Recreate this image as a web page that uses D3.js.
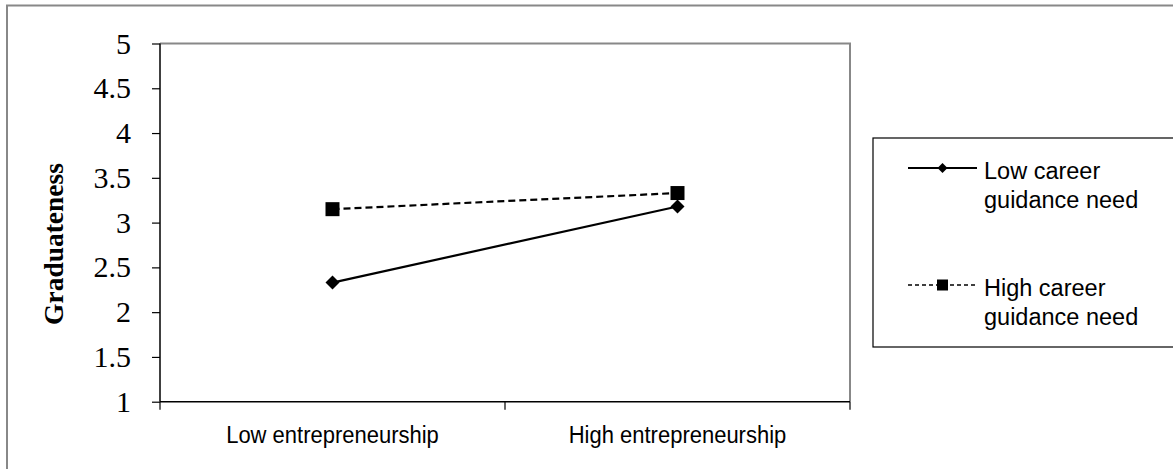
<!DOCTYPE html>
<html><head><meta charset="utf-8">
<script src="https://cdn.jsdelivr.net/npm/d3@7"></script>
<style>body{margin:0;background:#fff}svg{display:block}</style>
</head><body>
<svg id="c" width="1173" height="469"></svg>
<script>
const categories = ["Low entrepreneurship", "High entrepreneurship"];
const seriesNames = ["Low career guidance need", "High career guidance need"];
const lowGuidance = [2.33, 3.18];
const highGuidance = [3.15, 3.33];
const yTicks = [1, 1.5, 2, 2.5, 3, 3.5, 4, 4.5, 5];
const yTitle = "Graduateness";

const svg = d3.select("#c");
// outer frame
svg.append("rect").attr("x",7).attr("y",5.5).attr("width",1180).attr("height",480)
  .attr("fill","none").attr("stroke","#888").attr("stroke-width",2);

const L=160, R=850, T=43.5, B=401.7;
const x = d3.scaleBand().domain(categories).range([L,R]);
const y = d3.scaleLinear().domain([1,5]).range([B,T]);

// plot frame top/right gray
svg.append("path").attr("d",`M${L},${T}H${R}V${B}`).attr("fill","none").attr("stroke","#888").attr("stroke-width",2);

// y axis
const ya = svg.append("g").attr("transform",`translate(${L},0)`)
  .call(d3.axisLeft(y).tickValues(yTicks).tickFormat(d3.format("")).tickSize(8).tickPadding(21));
ya.select(".domain").attr("stroke","#000").attr("stroke-width",1.5).attr("d",`M0,${B}V${T}`);
ya.selectAll(".tick line").attr("stroke","#000").attr("stroke-width",1.2);
ya.selectAll("text").attr("font-family","Liberation Serif, Times New Roman, serif").attr("font-size",30).attr("fill","#000");

// x axis
const xa = svg.append("g").attr("transform",`translate(0,${B})`)
  .call(d3.axisBottom(x).tickSize(0).tickPadding(0));
xa.select(".domain").attr("stroke","#000").attr("stroke-width",1.5).attr("d",`M${L},0H${R}`);
xa.selectAll(".tick text").attr("font-family","Liberation Sans, Arial, sans-serif").attr("font-size",22)
  .attr("fill","#000").attr("dy",0).attr("y",0)
  .attr("transform","translate(0,41.5) scale(1,1.12)");
// boundary tick marks
const bounds = [L, ...categories.slice(1).map(c=>x(c)), R];
xa.selectAll(".btick").data(bounds).enter().append("line").attr("class","btick")
  .attr("x1",d=>d).attr("x2",d=>d).attr("y1",0).attr("y2",8).attr("stroke","#000").attr("stroke-width",1.2);

// y title
svg.append("text").attr("transform","translate(63,244) rotate(-90)").attr("text-anchor","middle")
  .attr("font-family","Liberation Serif, Times New Roman, serif").attr("font-weight","bold").attr("font-size",27.5)
  .text(yTitle);

const cx = c => x(c) + x.bandwidth()/2;
const line = d3.line().x((d,i)=>cx(categories[i])).y(d=>y(d));

// series
svg.append("path").datum(highGuidance).attr("d",line).attr("fill","none").attr("stroke","#000")
  .attr("stroke-width",2.2).attr("stroke-dasharray","7,4");
svg.append("path").datum(lowGuidance).attr("d",line).attr("fill","none").attr("stroke","#000").attr("stroke-width",2.2);

const diamond = (s)=>`M0,${-s}L${s},0L0,${s}L${-s},0Z`;
svg.selectAll(".sq").data(highGuidance).enter().append("rect")
  .attr("x",(d,i)=>cx(categories[i])-7).attr("y",d=>y(d)-7).attr("width",14).attr("height",14).attr("fill","#000");
svg.selectAll(".dm").data(lowGuidance).enter().append("path")
  .attr("transform",(d,i)=>`translate(${cx(categories[i])},${y(d)})`).attr("d",diamond(7)).attr("fill","#000");

// legend
svg.append("rect").attr("x",873).attr("y",138).attr("width",320).attr("height",209)
  .attr("fill","#fff").attr("stroke","#000").attr("stroke-width",1.2);
const lg = [{y:168, dash:null, name:seriesNames[0]}, {y:285, dash:"4,3", name:seriesNames[1]}];
lg.forEach((e,i)=>{
  svg.append("line").attr("x1",908).attr("x2",977).attr("y1",e.y).attr("y2",e.y)
    .attr("stroke","#000").attr("stroke-width",i?1.5:2).attr("stroke-dasharray",e.dash);
  if(i===0) svg.append("path").attr("transform",`translate(942.5,${e.y})`).attr("d",diamond(5)).attr("fill","#000");
  else svg.append("rect").attr("x",937).attr("y",e.y-5.5).attr("width",11).attr("height",11).attr("fill","#000");
  const words = e.name.split(" ");
  const t = svg.append("text").attr("font-family","Liberation Sans, Arial, sans-serif").attr("font-size",23.5).attr("fill","#000");
  t.append("tspan").attr("x",984).attr("y",e.y+11).text(words.slice(0,2).join(" "));
  t.append("tspan").attr("x",984).attr("y",e.y+40).text(words.slice(2).join(" "));
});
</script>
</body></html>
